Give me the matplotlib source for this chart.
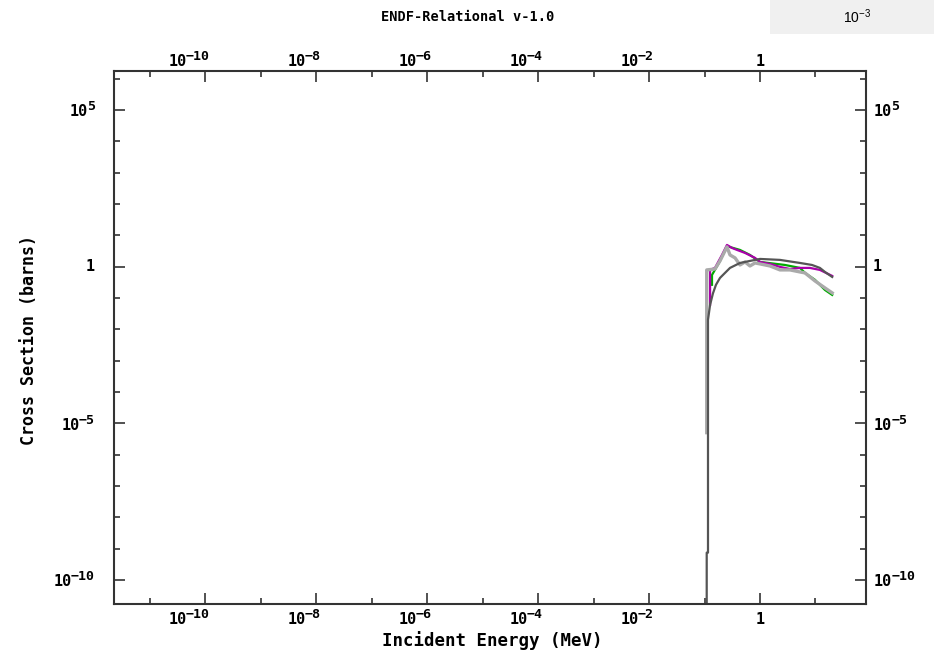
import numpy as np
import matplotlib
matplotlib.use("Agg")
import matplotlib.pyplot as plt
from matplotlib.ticker import FixedLocator, NullFormatter

# cross section curves (MeV, barns)
dark_e = [0.1096, 0.1096, 0.1156, 0.1156, 0.126, 0.142, 0.161, 0.19, 0.234, 0.288,
          0.436, 0.66, 1.0, 2.29, 5.25, 8.65, 12.0, 14.8, 20.0]
dark_xs = [1e-12, 7.4e-10, 7.4e-10, 0.02, 0.06, 0.14, 0.263, 0.435, 0.63, 0.91,
           1.31, 1.52, 1.76, 1.64, 1.31, 1.13, 0.91, 0.676, 0.468]

light_e = [0.1096, 0.1096, 0.1545, 0.19, 0.254, 0.288, 0.355, 0.436, 0.537, 0.66,
           0.813, 1.0, 1.51, 2.29, 3.47, 5.25, 6.46, 9.77, 14.8, 20.0]
light_xs = [5e-6, 0.785, 0.84, 1.52, 4.26, 2.36, 1.9, 1.13, 1.41, 1.05,
            1.31, 1.22, 1.05, 0.785, 0.785, 0.676, 0.63, 0.35, 0.209, 0.145]

magenta_e = [0.126, 0.126, 0.1545, 0.2066, 0.254, 0.313, 0.385, 0.537, 0.813, 1.0,
             1.51, 2.29, 3.47, 5.25, 7.94, 12.0, 20.0]
magenta_xs = [0.06, 0.785, 0.91, 2.36, 4.93, 3.95, 3.41, 2.74, 1.9, 1.41,
              1.22, 0.98, 0.84, 0.91, 0.91, 0.785, 0.505]

green_e = [0.1365, 0.1365, 0.19, 0.254, 0.436, 0.66, 1.0, 2.82, 5.25, 6.46,
           9.77, 14.8, 20.0]
green_xs = [0.263, 0.543, 1.5, 4.5, 3.41, 2.36, 1.41, 1.13, 0.91, 0.63,
            0.38, 0.18, 0.125]

# tick positions and labels ("" exponent means the label is just "1")
x_major = [1e-10, 1e-8, 1e-6, 1e-4, 1e-2, 1]
x_exps = ["\u221210", "\u22128", "\u22126", "\u22124", "\u22122", ""]
x_minor = [1e-11, 1e-9, 1e-7, 1e-5, 1e-3, 1e-1, 10]
y_major = [1e5, 1, 1e-5, 1e-10]
y_exps = ["5", "", "\u22125", "\u221210"]
y_minor = [10.0 ** k for k in range(-10, 7)]

mono = dict(family="DejaVu Sans Mono", weight="bold", color="black")
BASE_FS = 11
EXP_FS = 9.5

fig = plt.figure(figsize=(9.34, 6.59), dpi=100)
ax = fig.add_axes([114 / 934, 55 / 659, 752 / 934, 533 / 659])

ax.plot(green_e, green_xs, color="#00aa00", lw=1.6)
ax.plot(magenta_e, magenta_xs, color="#aa00aa", lw=1.6)
ax.plot(light_e, light_xs, color="#aaaaaa", lw=2.4)
ax.plot(dark_e, dark_xs, color="#555555", lw=1.6)

ax.set_xscale("log")
ax.set_yscale("log")
ax.set_xlim(10 ** -11.64, 10 ** 1.91)
ax.set_ylim(10 ** -10.77, 10 ** 6.245)

ax.xaxis.set_major_locator(FixedLocator(x_major))
ax.xaxis.set_minor_locator(FixedLocator(x_minor))
ax.yaxis.set_major_locator(FixedLocator(y_major))
ax.yaxis.set_minor_locator(FixedLocator(y_minor))
for a in (ax.xaxis, ax.yaxis):
    a.set_major_formatter(NullFormatter())
    a.set_minor_formatter(NullFormatter())

ax.tick_params(which="both", direction="in", top=True, right=True,
               color="#333333", width=1.2)
ax.tick_params(which="major", length=8)
ax.tick_params(which="minor", length=4)
for s in ax.spines.values():
    s.set_color("#333333")
    s.set_linewidth(1.5)

xt = ax.get_xaxis_transform()
yt = ax.get_yaxis_transform()


def label(text, xy, xycoords, off, ha, fs):
    return ax.annotate(text, xy, xycoords=xycoords, xytext=off,
                       textcoords="offset pixels", ha=ha, va="center",
                       fontsize=fs, annotation_clip=False, **mono)


# x tick labels, bottom and top: exponent ends just right of the tick, "10" before it
for xv, ex in zip(x_major, x_exps):
    for yfrac, dy in ((0, -16), (1, 9)):
        if ex == "":
            label("1", (xv, yfrac), xt, (0, dy), "center", BASE_FS)
            continue
        et = label(ex, (xv, yfrac), xt, (5, dy + 5), "right", EXP_FS)
        label("10", (0, 0.5), et, (1, -5), "right", BASE_FS)

# y tick labels, left and right
for yv, ex in zip(y_major, y_exps):
    if ex == "":
        label("1", (0, yv), yt, (-24, 0), "center", BASE_FS)
        label("1", (1, yv), yt, (11, 0), "center", BASE_FS)
        continue
    et = label(ex, (0, yv), yt, (-19, 3), "right", EXP_FS)
    label("10", (0, 0.5), et, (1, -5), "right", BASE_FS)
    bt = label("10", (1, yv), yt, (8, -2), "left", BASE_FS)
    label(ex, (1, 0.5), bt, (-1, 5), "left", EXP_FS)

fig.text(492 / 934, 1 - 641 / 659, "Incident Energy (MeV)", ha="center", va="center",
         fontsize=12.5, **mono)
fig.text(29 / 934, 1 - 340 / 659, "Cross Section (barns)", ha="center", va="center",
         rotation=90, fontsize=12, **mono)

fig.text(468 / 934, 1 - 17 / 659, "ENDF-Relational v-1.0", ha="center", va="center",
         fontsize=9.8, **mono)
fig.patches.append(plt.Rectangle((770 / 934, 1 - 34 / 659), 164 / 934, 34 / 659,
                                 transform=fig.transFigure, facecolor="#f0f0f0",
                                 edgecolor="none"))
fig.text(857 / 934, 1 - 17 / 659, r"$\mathregular{10^{-3}}$", ha="center", va="center",
         fontsize=10, family="Liberation Sans")

fig.savefig("out.png", dpi=100)
